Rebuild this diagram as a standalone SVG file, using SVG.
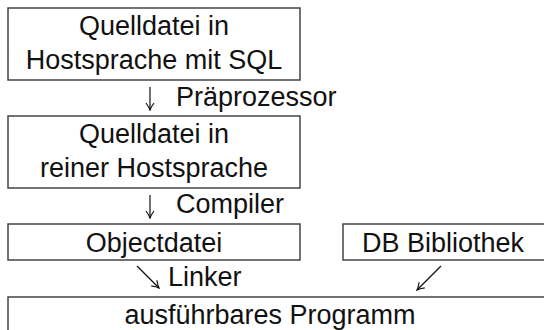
<svg xmlns="http://www.w3.org/2000/svg" width="544" height="330" viewBox="0 0 544 330">
<defs>
<style>
.box{fill:#fff;stroke:#444;stroke-width:1.5}
.t{font-family:"Liberation Sans",Arial,sans-serif;font-size:27px;fill:#111;text-anchor:middle}
.l{font-family:"Liberation Sans",Arial,sans-serif;font-size:27px;fill:#111}
.c{fill:none;stroke:#111;stroke-width:1.2}
</style>
<marker id="ah" viewBox="0 0 10 10" refX="9" refY="5" markerWidth="10" markerHeight="10" markerUnits="userSpaceOnUse" orient="auto">
<path d="M2,1 Q6,4 9,5 Q6,6 2,9" fill="none" stroke="#111" stroke-width="1.2"/>
</marker>
</defs>
<rect width="544" height="330" fill="#fff"/>
<g id="n1"><rect class="box" x="8" y="8" width="292" height="72"/><text class="t" x="154" y="35">Quelldatei in</text><text class="t" x="154" y="69">Hostsprache mit SQL</text></g>
<g id="n2"><rect class="box" x="8" y="116" width="292" height="72"/><text class="t" x="154" y="143">Quelldatei in</text><text class="t" x="154" y="177">reiner Hostsprache</text></g>
<g id="n3"><rect class="box" x="8" y="224" width="292" height="36"/><text class="t" x="154" y="252">Objectdatei</text></g>
<g id="n4"><rect class="box" x="343" y="224" width="210" height="36"/><text class="t" x="443" y="252">DB Bibliothek</text></g>
<g id="n5"><rect class="box" x="8" y="297" width="546" height="40"/><text class="t" x="270" y="324">ausführbares Programm</text></g>
<g id="connectors">
<path class="c" marker-end="url(#ah)" d="M150,87 V110"/>
<text class="l" x="176" y="106">Präprozessor</text>
<path class="c" marker-end="url(#ah)" d="M150,195 V218"/>
<text class="l" x="176" y="213">Compiler</text>
<path class="c" marker-end="url(#ah)" d="M137,266 L159,288"/>
<text class="l" x="168" y="286">Linker</text>
<path class="c" marker-end="url(#ah)" d="M441,266 L417,290"/>
</g>
</svg>
